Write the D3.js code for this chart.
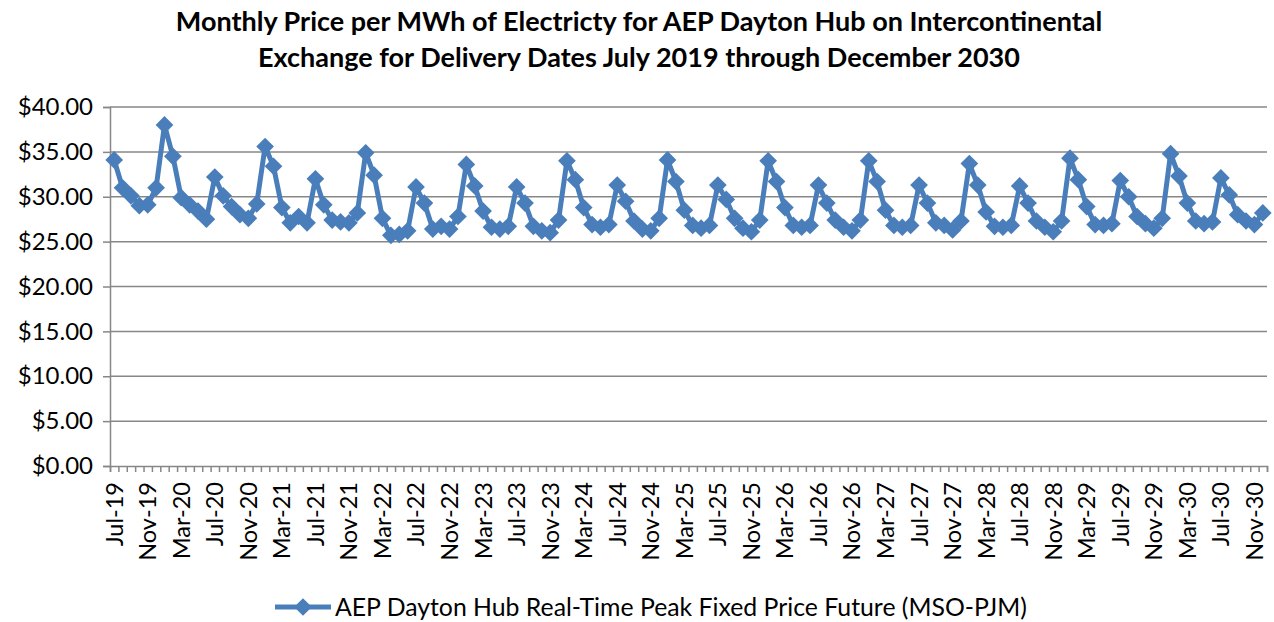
<!doctype html>
<html>
<head>
	<meta charset="UTF-8">
	<title>AEP Dayton Hub monthly price</title>
	<script src="https://d3js.org/d3.v7.min.js"></script>
	<style>
		body { margin: 0; background: #fff; }
		text { font-family: Lato, "Open Sans", sans-serif; fill: #000; }
	</style>
</head>
<body>
	<script>
		// month names and years used for the category labels
		var monthNames = ["Jan", "Feb", "Mar", "Apr", "May", "Jun", "Jul", "Aug", "Sep", "Oct", "Nov", "Dec"];
		var firstYear = 2019, firstMonth = 6, lastYear = 2030;

		// price per MWh (Jul 2019 - Dec 2030)
		var prices2019 = [34.1, 31.0, 30.1, 29.0, 29.1, 31.0];
		var prices2020 = [38.0, 34.5, 29.9, 29.1, 28.4, 27.5, 32.2, 30.1, 28.9, 28.0, 27.6, 29.2];
		var prices2021 = [35.6, 33.4, 28.8, 27.1, 27.8, 27.1, 32.0, 29.1, 27.4, 27.2, 27.1, 28.2];
		var prices2022 = [34.9, 32.4, 27.6, 25.7, 25.8, 26.2, 31.1, 29.3, 26.4, 26.7, 26.4, 27.8];
		var prices2023 = [33.6, 31.2, 28.4, 26.6, 26.4, 26.7, 31.1, 29.3, 26.7, 26.2, 26.0, 27.4];
		var prices2024 = [34.0, 31.9, 28.8, 26.9, 26.6, 26.9, 31.3, 29.5, 27.3, 26.4, 26.2, 27.6];
		var prices2025 = [34.1, 31.7, 28.5, 26.8, 26.5, 26.8, 31.3, 29.7, 27.6, 26.5, 26.1, 27.4];
		var prices2026 = [34.0, 31.7, 28.8, 26.8, 26.6, 26.8, 31.3, 29.3, 27.4, 26.6, 26.2, 27.4];
		var prices2027 = [34.0, 31.7, 28.5, 26.8, 26.6, 26.8, 31.3, 29.3, 27.1, 26.8, 26.3, 27.3];
		var prices2028 = [33.7, 31.3, 28.3, 26.7, 26.6, 26.8, 31.2, 29.3, 27.3, 26.6, 26.1, 27.3];
		var prices2029 = [34.3, 31.9, 28.9, 26.9, 26.8, 27.0, 31.8, 30.0, 27.8, 27.0, 26.5, 27.6];
		var prices2030 = [34.8, 32.3, 29.3, 27.3, 27.0, 27.2, 32.1, 30.2, 28.0, 27.3, 26.9, 28.2];

		var yTicks = [0, 5, 10, 15, 20, 25, 30, 35, 40];
		var titleLines = ["Monthly Price per MWh of Electricty for AEP Dayton Hub on Intercontinental",
			"Exchange for Delivery Dates July 2019 through December 2030"];
		var seriesName = "AEP Dayton Hub Real-Time Peak Fixed Price Future (MSO-PJM)";

		var prices = [].concat(prices2019, prices2020, prices2021, prices2022, prices2023, prices2024,
			prices2025, prices2026, prices2027, prices2028, prices2029, prices2030);

		// category labels, e.g. "Jul-19"
		var categories = [];
		for (var yr = firstYear; yr <= lastYear; yr++) {
			for (var m = (yr == firstYear ? firstMonth : 0); m < 12; m++) {
				categories.push(monthNames[m] + "-" + String(yr).slice(2));
			}
		}

		var data = categories.map(function(c, i) { return {cat: c, value: prices[i]}; });

		var W = 1274, H = 622;
		var plot = {left: 110, right: 1267, top: 107, bottom: 466};
		var blue = "#4a7ebb", grid = "#878787";

		var svg = d3.select("body").append("svg")
			.attr("width", W)
			.attr("height", H);

		var x = d3.scaleBand().domain(categories).range([plot.left, plot.right]).padding(0);
		var xEdge = d3.scaleLinear().domain([0, categories.length]).range([plot.left, plot.right]);
		var y = d3.scaleLinear().domain([0, 40]).range([plot.bottom, plot.top]);

		// title
		svg.append("g").selectAll("text")
			.data(titleLines)
			.enter().append("text")
				.attr("x", 639)
				.attr("y", function(d, i) { return 31 + i * 36; })
				.attr("text-anchor", "middle")
				.style("font-size", "27px")
				.style("font-weight", "bold")
				.text(function(d) { return d; });

		// horizontal gridlines
		svg.append("g").selectAll("line")
			.data(yTicks.slice(1))
			.enter().append("line")
				.attr("x1", plot.left).attr("x2", plot.right)
				.attr("y1", function(d) { return y(d); })
				.attr("y2", function(d) { return y(d); })
				.attr("stroke", grid)
				.attr("stroke-width", 1.5);

		// y axis
		var yAxis = svg.append("g")
			.attr("transform", "translate(" + plot.left + ",0)")
			.call(d3.axisLeft(y).tickValues(yTicks).tickSize(7).tickPadding(10)
				.tickFormat(function(d) { return "$" + d.toFixed(2); }));
		yAxis.selectAll("text").style("font-size", "24px");

		// x axis: a tick on every category boundary
		var xAxis = svg.append("g")
			.attr("transform", "translate(0," + plot.bottom + ")")
			.call(d3.axisBottom(xEdge).tickValues(d3.range(categories.length + 1)).tickSize(6).tickFormat(""));

		// x labels every 4 months
		var xLabels = svg.append("g")
			.attr("transform", "translate(0," + plot.bottom + ")")
			.call(d3.axisBottom(x).tickValues(categories.filter(function(d, i) { return i % 4 == 0; })).tickSize(0));
		xLabels.select(".domain").remove();
		xLabels.selectAll("text")
			.style("font-size", "23.5px")
			.attr("text-anchor", "end")
			.attr("transform", "rotate(-90)")
			.attr("x", -16)
			.attr("y", 0)
			.attr("dy", "0.36em");

		[yAxis, xAxis].forEach(function(a) {
			a.selectAll(".domain").attr("stroke", grid).attr("stroke-width", 1.5);
			a.selectAll(".tick line").attr("stroke", grid).attr("stroke-width", 1.5);
		});

		// the series line
		var line = d3.line()
			.x(function(d) { return x(d.cat) + x.bandwidth() / 2; })
			.y(function(d) { return y(d.value); });

		svg.append("path")
			.datum(data)
			.attr("fill", "none")
			.attr("stroke", blue)
			.attr("stroke-width", 5)
			.attr("stroke-linejoin", "round")
			.attr("d", line);

		var diamond = d3.symbol().type(d3.symbolDiamond2).size(200);

		svg.append("g").selectAll("path")
			.data(data)
			.enter().append("path")
				.attr("transform", function(d) {
					return "translate(" + (x(d.cat) + x.bandwidth() / 2) + "," + y(d.value) + ")";
				})
				.attr("d", diamond)
				.attr("fill", blue);

		// legend
		var legend = svg.append("g").attr("transform", "translate(275,607)");
		legend.append("line")
			.attr("x1", 0).attr("x2", 56)
			.attr("stroke", blue)
			.attr("stroke-width", 5);
		legend.append("path")
			.attr("transform", "translate(28,0)")
			.attr("d", diamond)
			.attr("fill", blue);
		legend.append("text")
			.attr("x", 60)
			.attr("dy", "0.36em")
			.style("font-size", "24.8px")
			.text(seriesName);
	</script>
</body>
</html>
